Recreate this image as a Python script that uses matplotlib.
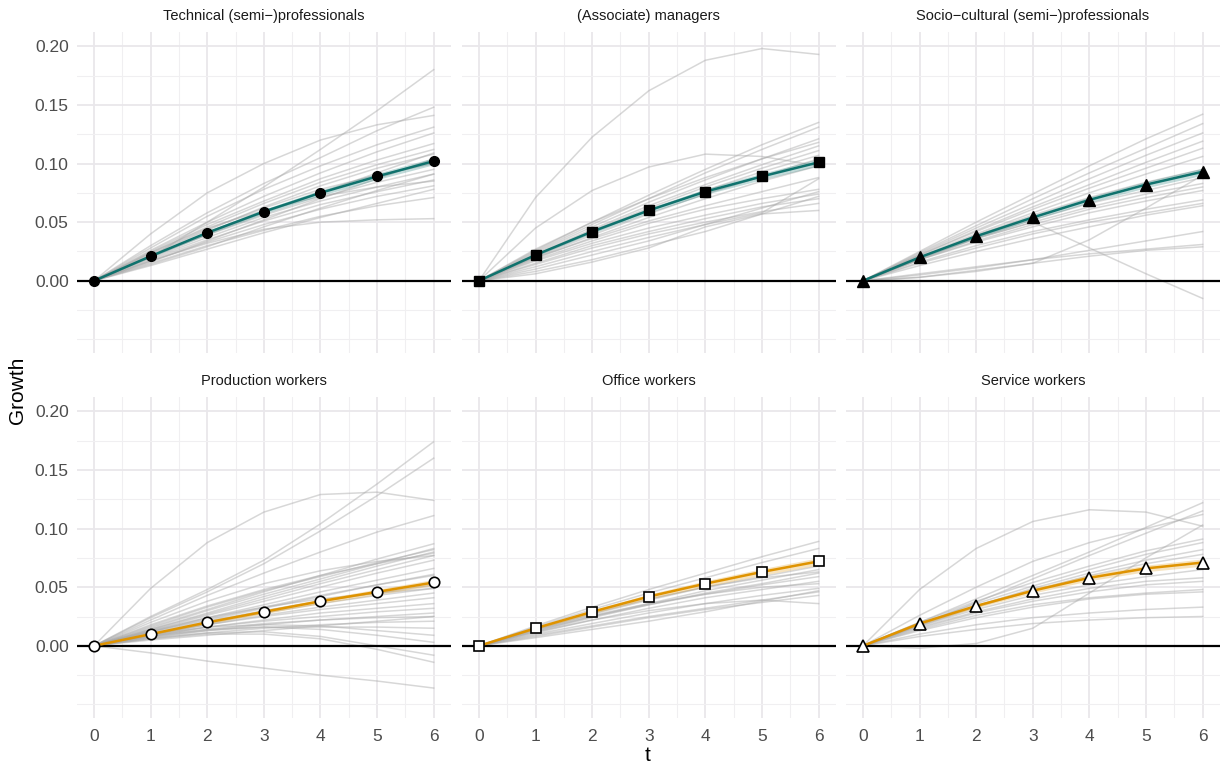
import numpy as np
import matplotlib.pyplot as plt
from matplotlib.ticker import MultipleLocator

plt.rcParams['font.family'] = ['Liberation Sans', 'DejaVu Sans']

t = [0, 1, 2, 3, 4, 5, 6]

titles = [
    "Technical (semi\u2212)professionals",
    "(Associate) managers",
    "Socio\u2212cultural (semi\u2212)professionals",
    "Production workers",
    "Office workers",
    "Service workers",
]

# average growth curve per occupation group
mean_tech = [0, 0.021, 0.041, 0.059, 0.075, 0.089, 0.102]
mean_mgr = [0, 0.022, 0.042, 0.060, 0.076, 0.089, 0.101]
mean_soc = [0, 0.020, 0.038, 0.054, 0.069, 0.082, 0.093]
mean_prod = [0, 0.010, 0.020, 0.029, 0.038, 0.046, 0.054]
mean_office = [0, 0.015, 0.029, 0.042, 0.053, 0.063, 0.072]
mean_serv = [0, 0.019, 0.034, 0.047, 0.058, 0.066, 0.071]

# half width of the confidence band around the average
band_tech = [0, 0.0010, 0.0016, 0.0020, 0.0024, 0.0027, 0.0030]
band_mgr = [0, 0.0010, 0.0016, 0.0020, 0.0024, 0.0027, 0.0030]
band_soc = [0, 0.0010, 0.0016, 0.0020, 0.0024, 0.0027, 0.0030]
band_prod = [0, 0.0008, 0.0013, 0.0017, 0.0020, 0.0023, 0.0026]
band_office = [0, 0.0010, 0.0016, 0.0021, 0.0025, 0.0028, 0.0031]
band_serv = [0, 0.0010, 0.0016, 0.0021, 0.0025, 0.0028, 0.0031]

# individual occupations inside each group
lines_tech = [
    [0, 0.020, 0.050, 0.080, 0.112, 0.145, 0.180],
    [0, 0.040, 0.075, 0.100, 0.120, 0.133, 0.141],
    [0, 0.030, 0.058, 0.083, 0.105, 0.128, 0.148],
    [0, 0.028, 0.055, 0.078, 0.098, 0.116, 0.131],
    [0, 0.026, 0.050, 0.072, 0.092, 0.110, 0.126],
    [0, 0.025, 0.048, 0.068, 0.087, 0.103, 0.117],
    [0, 0.024, 0.046, 0.066, 0.084, 0.099, 0.112],
    [0, 0.022, 0.043, 0.063, 0.081, 0.096, 0.108],
    [0, 0.023, 0.044, 0.062, 0.078, 0.090, 0.100],
    [0, 0.020, 0.039, 0.056, 0.071, 0.084, 0.095],
    [0, 0.019, 0.037, 0.054, 0.068, 0.080, 0.091],
    [0, 0.018, 0.035, 0.051, 0.065, 0.076, 0.086],
    [0, 0.017, 0.033, 0.048, 0.061, 0.072, 0.081],
    [0, 0.015, 0.030, 0.043, 0.055, 0.064, 0.071],
    [0, 0.017, 0.032, 0.044, 0.050, 0.052, 0.053],
    [0, 0.021, 0.040, 0.058, 0.075, 0.092, 0.109],
    [0, 0.016, 0.034, 0.052, 0.070, 0.087, 0.104],
    [0, 0.014, 0.029, 0.046, 0.062, 0.077, 0.091],
    [0, 0.024, 0.045, 0.060, 0.072, 0.080, 0.085],
    [0, 0.013, 0.027, 0.041, 0.054, 0.066, 0.078],
]

lines_mgr = [
    [0, 0.071, 0.1225, 0.162, 0.188, 0.198, 0.193],
    [0, 0.045, 0.077, 0.097, 0.108, 0.106, 0.098],
    [0, 0.026, 0.050, 0.073, 0.095, 0.116, 0.135],
    [0, 0.025, 0.048, 0.070, 0.092, 0.112, 0.131],
    [0, 0.024, 0.046, 0.067, 0.086, 0.104, 0.121],
    [0, 0.027, 0.050, 0.070, 0.088, 0.104, 0.118],
    [0, 0.023, 0.044, 0.064, 0.082, 0.099, 0.115],
    [0, 0.022, 0.043, 0.062, 0.080, 0.096, 0.111],
    [0, 0.021, 0.041, 0.060, 0.077, 0.093, 0.107],
    [0, 0.020, 0.039, 0.057, 0.074, 0.089, 0.104],
    [0, 0.019, 0.037, 0.054, 0.070, 0.085, 0.098],
    [0, 0.012, 0.025, 0.037, 0.048, 0.058, 0.087],
    [0, 0.017, 0.032, 0.045, 0.056, 0.066, 0.074],
    [0, 0.015, 0.030, 0.042, 0.053, 0.063, 0.070],
    [0, 0.014, 0.028, 0.040, 0.050, 0.059, 0.066],
    [0, 0.006, 0.016, 0.028, 0.046, 0.057, 0.060],
    [0, 0.010, 0.022, 0.034, 0.048, 0.062, 0.076],
    [0, 0.018, 0.034, 0.049, 0.061, 0.070, 0.078],
    [0, 0.008, 0.018, 0.030, 0.042, 0.057, 0.072],
    [0, 0.020, 0.036, 0.051, 0.064, 0.076, 0.088],
]

lines_soc = [
    [0, 0.025, 0.050, 0.074, 0.098, 0.121, 0.142],
    [0, 0.024, 0.047, 0.070, 0.092, 0.113, 0.134],
    [0, 0.023, 0.045, 0.066, 0.087, 0.107, 0.126],
    [0, 0.022, 0.043, 0.063, 0.082, 0.101, 0.119],
    [0, 0.022, 0.042, 0.061, 0.079, 0.096, 0.113],
    [0, 0.021, 0.040, 0.058, 0.075, 0.091, 0.106],
    [0, 0.020, 0.037, 0.052, 0.066, 0.077, 0.088],
    [0, 0.019, 0.036, 0.050, 0.063, 0.074, 0.083],
    [0, 0.018, 0.034, 0.048, 0.061, 0.071, 0.080],
    [0, 0.018, 0.033, 0.046, 0.058, 0.068, 0.077],
    [0, 0.016, 0.030, 0.042, 0.052, 0.061, 0.069],
    [0, 0.015, 0.028, 0.040, 0.050, 0.058, 0.066],
    [0, 0.013, 0.025, 0.036, 0.046, 0.056, 0.064],
    [0, 0.018, 0.036, 0.050, 0.028, 0.006, -0.015],
    [0, 0.003, 0.008, 0.015, 0.035, 0.062, 0.090],
    [0, 0.005, 0.011, 0.018, 0.026, 0.034, 0.042],
    [0, 0.006, 0.012, 0.018, 0.023, 0.027, 0.031],
    [0, 0.003, 0.009, 0.015, 0.021, 0.026, 0.029],
    [0, 0.020, 0.039, 0.056, 0.071, 0.084, 0.095],
]

lines_prod = [
    [0, 0.049, 0.088, 0.114, 0.129, 0.131, 0.124],
    [0, 0.025, 0.048, 0.073, 0.104, 0.138, 0.174],
    [0, 0.024, 0.046, 0.070, 0.098, 0.128, 0.160],
    [0, 0.022, 0.043, 0.062, 0.080, 0.097, 0.111],
    [0, -0.006, -0.013, -0.019, -0.025, -0.030, -0.036],
    [0, 0.016, 0.031, 0.046, 0.060, 0.074, 0.087],
    [0, 0.015, 0.030, 0.044, 0.057, 0.070, 0.083],
    [0, 0.014, 0.028, 0.042, 0.055, 0.068, 0.080],
    [0, 0.014, 0.027, 0.040, 0.053, 0.065, 0.077],
    [0, 0.013, 0.026, 0.038, 0.050, 0.062, 0.073],
    [0, 0.012, 0.024, 0.035, 0.046, 0.056, 0.066],
    [0, 0.012, 0.022, 0.032, 0.042, 0.052, 0.061],
    [0, 0.010, 0.019, 0.028, 0.036, 0.043, 0.049],
    [0, 0.009, 0.018, 0.026, 0.033, 0.039, 0.045],
    [0, 0.010, 0.018, 0.025, 0.031, 0.036, 0.041],
    [0, 0.008, 0.016, 0.022, 0.028, 0.032, 0.036],
    [0, 0.009, 0.016, 0.021, 0.025, 0.029, 0.032],
    [0, 0.007, 0.013, 0.018, 0.022, 0.025, 0.028],
    [0, 0.008, 0.014, 0.019, 0.022, 0.024, 0.025],
    [0, 0.006, 0.011, 0.015, 0.018, 0.020, 0.021],
    [0, 0.008, 0.013, 0.016, 0.016, 0.016, 0.015],
    [0, 0.010, 0.016, 0.018, 0.017, 0.013, 0.009],
    [0, 0.009, 0.014, 0.016, 0.014, 0.009, 0.003],
    [0, 0.007, 0.011, 0.012, 0.008, 0.000, -0.008],
    [0, 0.006, 0.010, 0.010, 0.006, -0.003, -0.014],
    [0, 0.018, 0.034, 0.048, 0.060, 0.070, 0.079],
    [0, 0.017, 0.033, 0.047, 0.059, 0.071, 0.082],
    [0, 0.011, 0.021, 0.030, 0.038, 0.045, 0.052],
    [0, 0.013, 0.024, 0.033, 0.040, 0.045, 0.049],
    [0, 0.012, 0.023, 0.033, 0.043, 0.052, 0.060],
    [0, 0.005, 0.009, 0.013, 0.017, 0.021, 0.025],
    [0, 0.020, 0.038, 0.053, 0.064, 0.072, 0.077],
]

lines_office = [
    [0, 0.017, 0.033, 0.048, 0.062, 0.076, 0.089],
    [0, 0.016, 0.031, 0.045, 0.058, 0.071, 0.083],
    [0, 0.014, 0.027, 0.039, 0.050, 0.059, 0.068],
    [0, 0.013, 0.025, 0.036, 0.047, 0.056, 0.065],
    [0, 0.012, 0.024, 0.035, 0.045, 0.053, 0.062],
    [0, 0.013, 0.025, 0.035, 0.044, 0.052, 0.059],
    [0, 0.011, 0.022, 0.032, 0.041, 0.048, 0.055],
    [0, 0.010, 0.019, 0.028, 0.036, 0.043, 0.049],
    [0, 0.009, 0.017, 0.025, 0.032, 0.039, 0.046],
    [0, 0.012, 0.022, 0.030, 0.036, 0.039, 0.036],
    [0, 0.008, 0.016, 0.024, 0.031, 0.037, 0.043],
    [0, 0.015, 0.028, 0.040, 0.050, 0.058, 0.063],
    [0, 0.007, 0.014, 0.021, 0.029, 0.038, 0.047],
    [0, 0.014, 0.026, 0.036, 0.044, 0.050, 0.053],
]

lines_serv = [
    [0, 0.048, 0.083, 0.106, 0.116, 0.114, 0.102],
    [0, 0.020, 0.040, 0.060, 0.080, 0.101, 0.122],
    [0, 0.018, 0.037, 0.057, 0.077, 0.096, 0.115],
    [0, 0.026, 0.050, 0.072, 0.088, 0.100, 0.112],
    [0, -0.002, 0.002, 0.015, 0.045, 0.075, 0.103],
    [0, 0.020, 0.038, 0.054, 0.068, 0.081, 0.091],
    [0, 0.019, 0.036, 0.051, 0.065, 0.078, 0.088],
    [0, 0.018, 0.034, 0.049, 0.062, 0.073, 0.082],
    [0, 0.017, 0.031, 0.043, 0.052, 0.059, 0.065],
    [0, 0.016, 0.029, 0.040, 0.049, 0.055, 0.058],
    [0, 0.015, 0.028, 0.038, 0.046, 0.052, 0.055],
    [0, 0.014, 0.026, 0.035, 0.041, 0.045, 0.048],
    [0, 0.013, 0.024, 0.033, 0.040, 0.044, 0.046],
    [0, 0.010, 0.018, 0.024, 0.028, 0.031, 0.033],
    [0, 0.008, 0.014, 0.019, 0.022, 0.024, 0.025],
    [0, 0.017, 0.033, 0.047, 0.060, 0.070, 0.078],
]

all_means = [mean_tech, mean_mgr, mean_soc, mean_prod, mean_office, mean_serv]
all_bands = [band_tech, band_mgr, band_soc, band_prod, band_office, band_serv]
all_lines = [lines_tech, lines_mgr, lines_soc, lines_prod, lines_office, lines_serv]

teal = "#0f726d"
orange = "#df9300"
markers = ["o", "s", "^", "o", "s", "^"]
msizes = [7, 7, 8, 7.5, 7.5, 8.5]

fig = plt.figure(figsize=(12.25, 7.63), dpi=100)

lefts = [0.0629, 0.3771, 0.6906]
bottoms = [0.5374, 0.0590]
w, h = 0.305, 0.4205

for i in range(6):
    row, col = divmod(i, 3)
    ax = fig.add_axes([lefts[col], bottoms[row], w, h])

    # grid like theme_minimal
    ax.set_xlim(-0.3, 6.3)
    ax.set_ylim(-0.0615, 0.212)
    ax.xaxis.set_major_locator(MultipleLocator(1))
    ax.xaxis.set_minor_locator(MultipleLocator(0.5))
    ax.yaxis.set_major_locator(MultipleLocator(0.05))
    ax.yaxis.set_minor_locator(MultipleLocator(0.025))
    ax.grid(which="major", color="#e9e7eb", lw=1.3)
    ax.grid(which="minor", color="#f0eff1", lw=0.8)
    ax.set_axisbelow(True)
    for s in ax.spines.values():
        s.set_visible(False)
    ax.tick_params(which="both", length=0, colors="#4d4d4d", labelsize=12.5)
    ax.tick_params(axis="x", pad=8)
    ax.tick_params(axis="y", pad=6)
    ax.set_yticks([0, 0.05, 0.10, 0.15, 0.20])
    ax.set_yticklabels(["0.00", "0.05", "0.10", "0.15", "0.20"])
    if col > 0:
        ax.tick_params(axis="y", labelleft=False)
    if row == 0:
        ax.tick_params(axis="x", labelbottom=False)

    for ln in all_lines[i]:
        ax.plot(t, ln, color="#a8a8a8", alpha=0.45, lw=1.1, zorder=2)

    ax.axhline(0, color="black", lw=1.6, zorder=3)

    c = teal if row == 0 else orange
    m = np.array(all_means[i])
    b = np.array(all_bands[i])
    ax.fill_between(t, m - b, m + b, color=c, alpha=0.25, lw=0, zorder=4)
    ax.plot(t, m, color=c, lw=1.8, zorder=5)
    if row == 0:
        ax.plot(t, m, ls="none", marker=markers[i], ms=msizes[i],
                color="black", zorder=6)
    else:
        ax.plot(t, m, ls="none", marker=markers[i], ms=msizes[i],
                mfc="white", mec="black", mew=1.2, zorder=6)

    ax.text(0.5, 1.05, titles[i], transform=ax.transAxes, ha="center",
            va="center", fontsize=10.5, color="#1a1a1a")

fig.text(0.014, 0.488, "Growth", rotation=90, ha="center", va="center",
         fontsize=15, color="black")
fig.text(0.529, 0.01, "t", ha="center", va="center", fontsize=15,
         color="black")

fig.savefig("out.png", dpi=100, facecolor="white")
